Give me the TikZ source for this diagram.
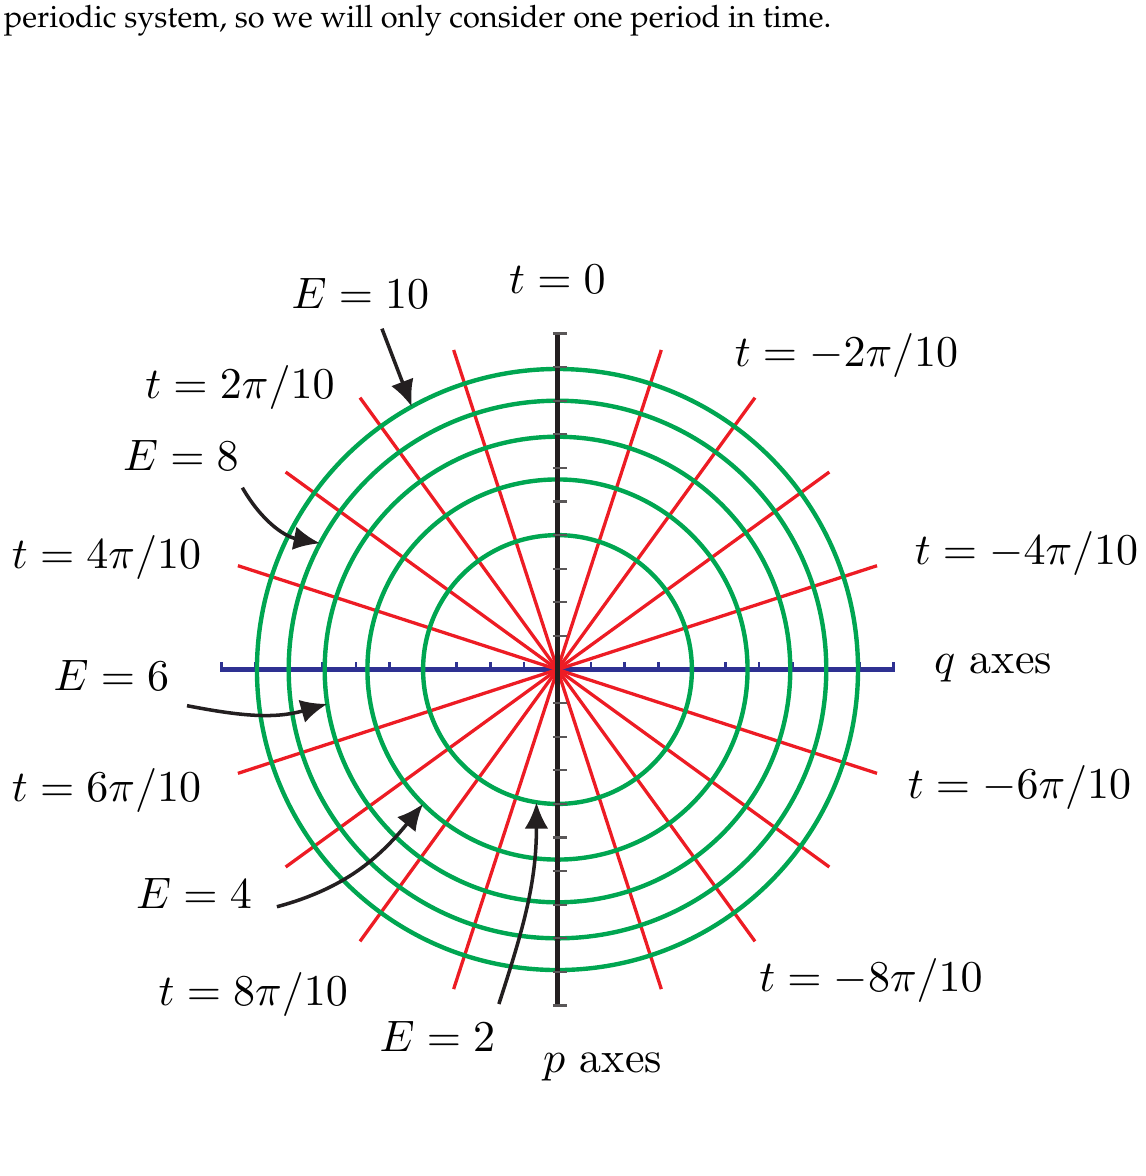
\documentclass[tikz,border=0pt]{standalone}
\usepackage{tikz}
\usepackage{xcolor}
\usetikzlibrary{arrows.meta}
\usepackage{amsmath,amssymb,amsfonts}

\definecolor{phred}{RGB}{237,28,36}
\definecolor{phgreen}{RGB}{0,166,81}
\definecolor{phblue}{RGB}{46,49,146}
\definecolor{phblack}{RGB}{35,31,32}

\newcommand{\energycircle}[1]% energy level
{(0,0) circle ({sqrt(2*#1)})
}
\newcommand{\palfont}{\fontencoding{OT1}\fontfamily{ppl}\fontsize{7}{8}\selectfont}

\tikzset{
  tlabel/.style={inner sep=0pt, anchor=base},
  pointer/.style={draw=phblack, line width=0.8pt, -{Latex[length=6pt,width=5.4pt]}},
}

\begin{document}
\begin{tikzpicture}[x=0.5368cm,y=0.5368cm]
\useasboundingbox (-8.296,-7.537) rectangle (8.757,9.963);

\node[anchor=base west,inner sep=0pt,font=\palfont] (caption) at (-8.251,9.549) {periodic system, so we will only consider one period in time.};

% q axis
\draw[phblue, line width=1.1pt] (-5.02,0) -- (5.02,0);
\foreach \k in {-10,-9,...,-1,1,2,...,10}
  \draw[phblue, line width=0.6pt] (\k*0.5,0) -- (\k*0.5,0.11);

% t = const
\foreach \a in {18,36,54,72,108,126,144,162}
  \draw[phred, line width=0.75pt] (\a:5) -- (\a+180:5);

% E = const
\foreach \e in {2,4,...,10}
  \draw[phgreen, line width=1pt] \energycircle{\e};

% p axis
\draw[phblack, line width=1.1pt] (0,-5.02) -- (0,5.02);
\foreach \k in {-10,-9,...,-1,1,2,...,10}
  \draw[phblack!75, line width=0.5pt] (-0.07,\k*0.5) -- (0.14,\k*0.5);

\node[tlabel] (t0) at (0,5.60) {$t = 0$};
\node[tlabel] (tm2) at (4.301,4.506) {$t = -2\pi/10$};
\node[tlabel] (tp2) at (-4.725,4.036) {$t = 2\pi/10$};
\node[tlabel] (tp4) at (-6.711,1.506) {$t = 4\pi/10$};
\node[tlabel] (tm4) at (6.979,1.561) {$t = -4\pi/10$};
\node[tlabel] (tp6) at (-6.711,-1.967) {$t = 6\pi/10$};
\node[tlabel] (tm6) at (6.875,-1.921) {$t = -6\pi/10$};
\node[tlabel] (tp8) at (-4.527,-4.993) {$t = 8\pi/10$};
\node[tlabel] (tm8) at (4.665,-4.790) {$t = -8\pi/10$};

\node[tlabel] (qax) at (6.481,-0.061) {$q$ axes};
\node[tlabel] (pax) at (0.670,-5.990) {$p$ axes};

\node[tlabel] (e10) at (-2.932,5.375) {$E = 10$};
\node[tlabel] (e8) at (-5.603,2.969) {$E = 8$};
\node[tlabel] (e6) at (-6.637,-0.305) {$E = 6$};
\node[tlabel] (e4) at (-5.409,-3.554) {$E = 4$};
\node[tlabel] (e2) at (-1.786,-5.688) {$E = 2$};

\coordinate (c10) at (119:{sqrt(20)});
\coordinate (c8) at (152:{sqrt(16)});
\coordinate (c6) at (188.5:{sqrt(12)});
\coordinate (c4) at (225:{sqrt(8)});
\coordinate (c2) at (261:{sqrt(4)});

\draw[pointer] ([shift={(0.32,-0.29)}]e10.south) -- (c10);
\draw[pointer] ([shift={(0.04,-0.25)}]e8.south east) to[out=-60,in=169] (c8);
\draw[pointer] ([shift={(0.25,-0.22)}]e6.south east) to[out=-11,in=196] (c6);
\draw[pointer] ([shift={(0.36,-0.2)}]e4.east) to[out=15,in=231] (c4);
\draw[pointer] ([shift={(0.04,0.25)}]e2.north east) to[out=72,in=-90] (c2);
\end{tikzpicture}
\end{document}
